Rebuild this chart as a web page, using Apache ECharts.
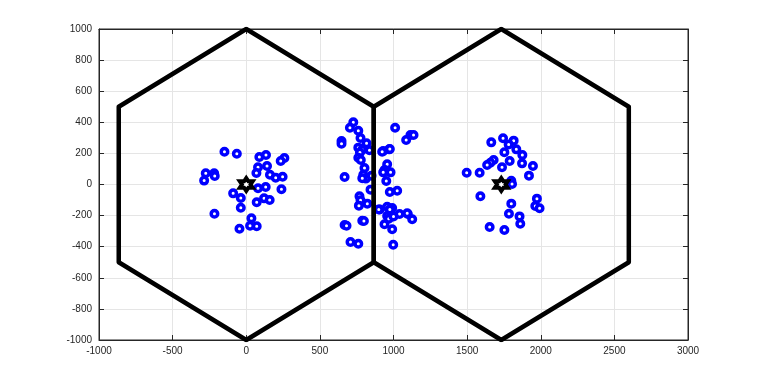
<!DOCTYPE html>
<html>
<head>
<meta charset="utf-8">
<script src="https://cdn.jsdelivr.net/npm/echarts@6/dist/echarts.min.js"></script>
<style>
  html, body { margin: 0; padding: 0; background: #fff; }
  #chart { width: 763px; height: 382px; }
</style>
</head>
<body>
<div id="chart"></div>
<script>
// cell outlines (vertices, closed)
var hexA = [[0, 1000], [866, 500], [866, -500], [0, -1000], [-866, -500], [-866, 500], [0, 1000]];
var hexB = [[1732, 1000], [2598, 500], [2598, -500], [1732, -1000], [866, -500], [866, 500], [1732, 1000]];

// base stations
var stations = [[0, 0], [1732, 0]];

// users
var usersA = [
  [-148, 211], [-64, 198], [89, 177], [134, 190], [259, 170], [234, 151],
  [-275, 72], [-218, 72], [-214, 55], [-286, 25], [80, 111], [141, 119],
  [69, 74], [161, 63], [200, 44], [247, 50], [80, -24], [132, -16],
  [239, -31], [-89, -57], [-37, -87], [71, -114], [121, -89], [159, -100],
  [-37, -149], [-216, -188], [35, -217], [26, -265], [71, -269], [-46, -284]
];
var usersMid = [
  [727, 400], [704, 365], [761, 346], [776, 299], [647, 280], [647, 262],
  [817, 265], [761, 237], [788, 224], [837, 220], [772, 205], [761, 172],
  [778, 158], [803, 106], [668, 48], [795, 63], [812, 38], [851, 57],
  [788, 40], [844, -33], [769, -76], [776, -102], [822, -123], [765, -136],
  [788, -233], [668, -260], [681, -265], [708, -370], [761, -381], [799, -235],
  [1011, 365], [1115, 318], [1136, 318], [1086, 286], [930, 215], [971, 226],
  [957, 130], [939, 93], [980, 78], [930, 78], [951, 23], [975, -48],
  [1025, -40], [907, -160], [957, -143], [991, -151], [957, -203], [1041, -190],
  [1097, -190], [1127, -224], [968, -220], [939, -256], [991, -288], [998, -387],
  [975, 228], [923, 211], [975, -160], [1000, -205], [900, -160], [1093, -185]
];
var usersB = [
  [1664, 271], [1744, 297], [1816, 282], [1782, 258], [1834, 226], [1753, 207],
  [1875, 190], [1680, 158], [1658, 140], [1636, 125], [1789, 151], [1873, 136],
  [1947, 119], [1737, 111], [1497, 76], [1585, 76], [1920, 57], [1800, 24],
  [1805, 3], [1590, -76], [1800, -123], [1974, -91], [1963, -138], [1992, -153],
  [1784, -188], [1856, -205], [1861, -252], [1653, -273], [1753, -293]
];

var users = usersA.concat(usersMid, usersB);

var star = 'path://M0,-1 L0.2887,-0.5 L0.866,-0.5 L0.5774,0 L0.866,0.5 L0.2887,0.5 L0,1 L-0.2887,0.5 L-0.866,0.5 L-0.5774,0 L-0.866,-0.5 L-0.2887,-0.5 Z';

var labelStyle = { color: '#262626', fontSize: 10, fontFamily: 'Liberation Sans', formatter: function (v) { return String(v); } };
var axisLine = { show: true, onZero: false, lineStyle: { color: '#262626', width: 1 } };
var tick = { show: true, inside: true, length: 5, lineStyle: { color: '#262626' } };
var split = { show: true, lineStyle: { color: '#e5e5e5', width: 1 } };

var chart = echarts.init(document.getElementById('chart'));
chart.setOption({
  animation: false,
  backgroundColor: '#fff',
  grid: { left: 99, right: 75, top: 29, bottom: 42, show: true, borderColor: '#262626', borderWidth: 1 },
  xAxis: [{
    type: 'value', min: -1000, max: 3000, interval: 500,
    axisLine: axisLine, axisTick: tick, splitLine: split,
    axisLabel: Object.assign({ margin: 6 }, labelStyle)
  }, {
    type: 'value', position: 'top', min: -1000, max: 3000, interval: 500,
    axisLine: axisLine, axisTick: tick, splitLine: { show: false }, axisLabel: { show: false }
  }],
  yAxis: [{
    type: 'value', min: -1000, max: 1000, interval: 200,
    axisLine: axisLine, axisTick: tick, splitLine: split,
    axisLabel: Object.assign({ margin: 7 }, labelStyle)
  }, {
    type: 'value', position: 'right', min: -1000, max: 1000, interval: 200,
    axisLine: axisLine, axisTick: tick, splitLine: { show: false }, axisLabel: { show: false }
  }],
  series: [{
    type: 'scatter', data: users, symbol: 'circle', symbolSize: 6.5, z: 2,
    itemStyle: { color: '#fff', borderColor: '#0000ff', borderWidth: 3.5, opacity: 1 }
  }, {
    type: 'line', data: hexA, showSymbol: false, symbol: 'none', z: 3,
    lineStyle: { color: '#000', width: 4.5, join: 'round', cap: 'round' }
  }, {
    type: 'line', data: hexB, showSymbol: false, symbol: 'none', z: 3,
    lineStyle: { color: '#000', width: 4.5, join: 'round', cap: 'round' }
  }, {
    type: 'scatter', data: stations, symbol: star, symbolSize: 13, z: 4,
    itemStyle: { color: '#fff', borderColor: '#000', borderWidth: 4, opacity: 1 }
  }]
});
</script>
</body>
</html>
